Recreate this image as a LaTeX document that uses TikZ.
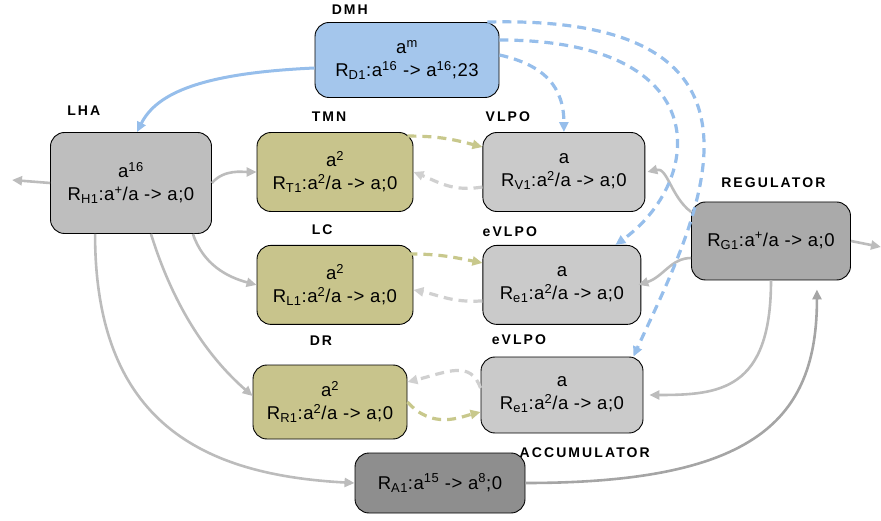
\documentclass[tikz,border=0pt]{standalone}
\usepackage{fontspec}
\setmainfont{Liberation Sans}[LetterSpace=3]
\newfontfamily\lblfont[LetterSpace=15]{Liberation Sans}
\usepackage{tikz}
\usetikzlibrary{arrows.meta,positioning}

\definecolor{dmhblue}{RGB}{164,198,236}
\definecolor{olivebox}{RGB}{200,196,140}
\definecolor{lightbox}{RGB}{202,202,202}
\definecolor{midbox}{RGB}{190,190,190}
\definecolor{darkbox}{RGB}{170,170,170}
\definecolor{accbox}{RGB}{142,142,142}
\definecolor{linkgray}{RGB}{188,188,188}
\definecolor{linkdark}{RGB}{165,165,165}
\definecolor{linkblue}{RGB}{150,190,235}
\definecolor{linkolive}{RGB}{200,200,140}
\definecolor{linkpale}{RGB}{208,208,208}

\begin{document}
\begin{tikzpicture}[x=1pt, y=-1pt, every node/.style={font=\fontsize{18.5}{23}\selectfont}]
    \tikzstyle{box} = [rectangle, draw=black, line width=0.9pt, rounded corners=14pt,
        align=center, inner sep=0pt, minimum width=156pt, minimum height=79pt]
    \tikzstyle{lbl} = [font=\lblfont\bfseries\fontsize{14}{16}\selectfont, inner sep=0pt]
    \tikzstyle{link} = [draw=linkgray, line width=2.6pt, -{Triangle[length=10pt,width=9pt]}]
    \tikzstyle{bluedash} = [link, draw=linkblue, line width=3.2pt, dash pattern=on 9pt off 6pt]
    \tikzstyle{olivedash} = [link, draw=linkolive, line width=3.2pt, dash pattern=on 9pt off 6pt]
    \tikzstyle{paledash} = [link, draw=linkpale, line width=3.2pt, dash pattern=on 9pt off 6pt]
    \useasboundingbox (0,0) rectangle (881,521);

    % boxes
    \node (dmh) [box, fill=dmhblue, minimum width=184pt, minimum height=75pt] at (407,60)
        {a\textsuperscript{m}\\R\textsubscript{D1}:a\textsuperscript{16} -> a\textsuperscript{16};23};
    \node (lha) [box, fill=midbox, minimum width=161pt, minimum height=101pt] at (131,183)
        {a\textsuperscript{16}\\R\textsubscript{H1}:a\textsuperscript{+}/a -> a;0};
    \node (tmn) [box, fill=olivebox] at (335,172)
        {a\textsuperscript{2}\\R\textsubscript{T1}:a\textsuperscript{2}/a -> a;0};
    \node (lc) [box, fill=olivebox, below=33pt of tmn]
        {a\textsuperscript{2}\\R\textsubscript{L1}:a\textsuperscript{2}/a -> a;0};
    \node (dr) [box, fill=olivebox, minimum width=154pt, minimum height=74pt] at (330,402)
        {a\textsuperscript{2}\\R\textsubscript{R1}:a\textsuperscript{2}/a -> a;0};
    \node (vlpo) [box, fill=lightbox, minimum width=162pt, right=69pt of tmn]
        {a\\R\textsubscript{V1}:a\textsuperscript{2}/a -> a;0};
    \node (evone) [box, fill=lightbox, minimum width=158pt, right=69pt of lc]
        {a\\R\textsubscript{e1}:a\textsuperscript{2}/a -> a;0};
    \node (evtwo) [box, fill=lightbox, minimum width=162pt, minimum height=76pt] at (562,395)
        {a\\R\textsubscript{e1}:a\textsuperscript{2}/a -> a;0};
    \node (reg) [box, fill=darkbox, minimum width=159pt, minimum height=78pt] at (771,241)
        {R\textsubscript{G1}:a\textsuperscript{+}/a -> a;0};
    \node (acc) [box, fill=accbox, minimum width=170pt, minimum height=60pt] at (440,483)
        {R\textsubscript{A1}:a\textsuperscript{15} -> a\textsuperscript{8};0};

    % names
    \node [lbl, above right=7pt and 17pt of dmh.north west] {DMH};
    \node [lbl, above right=16pt and 17pt of lha.north west] {LHA};
    \node [lbl, above right=10pt and 55pt of tmn.north west] {TMN};
    \node [lbl, above right=10pt and 3pt of vlpo.north west] {VLPO};
    \node [lbl, above right=10pt and 55pt of lc.north west] {LC};
    \node [lbl, above right=8pt and 0pt of evone.north west] {eVLPO};
    \node [lbl, above right=19pt and 57pt of dr.north west] {DR};
    \node [lbl, above right=12pt and 11pt of evtwo.north west] {eVLPO};
    \node [lbl, above right=14pt and 30pt of reg.north west] {REGULATOR};
    \node [lbl, above right=-5pt and -6pt of acc.north east] {ACCUMULATOR};

    \coordinate (lhaout) at (12,180);
    \coordinate (regout) at (881,247);

    % gray links
    \draw [link] (lha.west) -- (lhaout);
    \draw [link] (lha.east) .. controls +(12,-14) and +(-14,0) .. (tmn.west);
    \draw [link] ([xshift=-19pt]lha.south east) .. controls +(10,30) and +(-30,-8) .. (lc.west);
    \draw [link] ([xshift=-61pt]lha.south east) .. controls +(25,80) and +(-40,-35) .. ([yshift=6pt]dr.west);
    \draw [link] ([xshift=45pt]lha.south west) .. controls +(0,190) and +(-150,-8) .. (acc.west);
    \draw [link, draw=linkdark] (acc.east) .. controls +(230,0) and +(0,130) .. ([xshift=-34pt,yshift=-9pt]reg.south east);
    \draw [link] (reg.south) .. controls +(0,110) and +(70,0) .. ([xshift=6pt]evtwo.east);
    \draw [link] ([yshift=-17pt]reg.west) .. controls +(-20,0) and +(25,-8) .. ([xshift=-3pt]evone.east);
    \draw [link] (reg.160) .. controls +(-20,-15) and +(20,-5) .. ([xshift=2pt]vlpo.east);
    \draw [link] (reg.east) -- (regout);

    % DMH links
    \draw [link, draw=linkblue, line width=3pt] ([yshift=-8pt]dmh.west) .. controls +(-110,5) and +(20,-40) .. ([xshift=6pt]lha.north);
    \draw [bluedash] ([yshift=5pt]dmh.east) .. controls +(45,10) and +(0,-45) .. (vlpo.north);
    \draw [bluedash] ([yshift=20pt]dmh.east) .. controls +(220,0) and +(88,-63) .. ([xshift=-26pt]evone.north east);
    \draw [bluedash] ([xshift=-12pt]dmh.north east) .. controls +(323,-8) and +(58,-127) .. ([xshift=-10pt]evtwo.north east);

    % dashed exchanges
    \draw [olivedash] ([xshift=-6pt,yshift=-4pt]tmn.north east) .. controls +(30,0) and +(-30,-8) .. ([yshift=-15pt]vlpo.north west);
    \draw [paledash] ([yshift=-15pt]vlpo.west) .. controls +(-30,5) and +(25,10) .. (tmn.east);
    \draw [olivedash] ([xshift=-5pt,yshift=-9pt]lc.north east) .. controls +(30,0) and +(-30,-6) .. ([yshift=-18pt]evone.north west);
    \draw [paledash] ([yshift=-16pt]evone.west) .. controls +(-30,2) and +(25,5) .. ([yshift=-5pt]lc.east);
    \draw [paledash] ([yshift=7pt]evtwo.west) .. controls +(-10,-28) and +(40,-10) .. ([yshift=20pt]dr.east);
    \draw [olivedash] (dr.east) .. controls +(25,28) and +(-20,5) .. ([yshift=-17pt]evtwo.west);
\end{tikzpicture}
\end{document}
